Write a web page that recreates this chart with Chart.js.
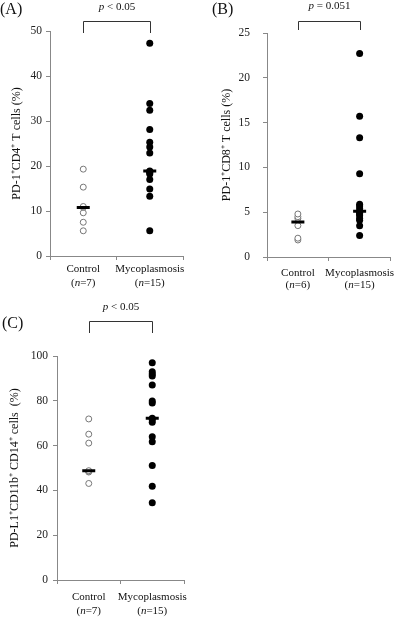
<!DOCTYPE html>
<html>
<head>
<meta charset="utf-8">
<script src="https://cdn.jsdelivr.net/npm/chart.js@4/dist/chart.umd.min.js"></script>
<style>
  body { margin: 0; background: #fff; }
  #wrap { position: relative; width: 400px; height: 633px; }
  canvas { position: absolute; }
</style>
</head>
<body>
<div id="wrap">
  <canvas id="chartA" width="200" height="300" style="left:0;top:0"></canvas>
  <canvas id="chartB" width="200" height="300" style="left:200px;top:0"></canvas>
  <canvas id="chartC" width="200" height="333" style="left:0;top:300px"></canvas>
</div>
<script>
const grupos = ['Control', 'Mycoplasmosis'];

// (A) PD-1+CD4+ T cells (%)
const cd4N = [7, 15];
const cd4Control = [5.6, 7.5, 9.6, 10.8, 11.0, 15.3, 19.3];
const cd4Myco = [5.6, 13.3, 14.9, 17.0, 18.2, 18.5, 18.8, 18.9, 22.9, 24.2, 25.3, 28.1, 32.4, 33.9, 47.3];
const cd4Mediana = [10.8, 18.9];
const cd4Ticks = [0, 10, 20, 30, 40, 50];

// (B) PD-1+CD8+ T cells (%)
const cd8N = [6, 15];
const cd8Control = [1.9, 2.1, 3.5, 4.3, 4.5, 4.8];
const cd8Myco = [2.4, 3.5, 4.1, 4.3, 4.6, 4.8, 4.9, 5.1, 5.4, 5.7, 5.9, 9.3, 13.3, 15.7, 22.7];
const cd8Mediana = [3.9, 5.1];
const cd8Ticks = [0, 5, 10, 15, 20, 25];

// (C) PD-L1+CD11b+CD14+ cells (%)
const pdl1N = [7, 15];
const pdl1Control = [43.1, 48.2, 48.5, 48.8, 61.1, 65.1, 71.9];
const pdl1Myco = [34.5, 41.9, 51.1, 61.7, 63.9, 70.4, 71.5, 72.2, 79.0, 79.9, 87.0, 91.1, 92.0, 93.0, 97.0];
const pdl1Mediana = [48.8, 72.2];
const pdl1Ticks = [0, 20, 40, 60, 80, 100];

const fonte = '"Liberation Serif", "Times New Roman", serif';

// escreve pedacos de texto (normal / italico) centrados em x
function textoMisto(ctx, partes, x, y, tamanho) {
  const fontes = partes.map(p => (p[1] ? 'italic ' : '') + tamanho + 'px ' + fonte);
  let total = 0;
  const larguras = partes.map((p, i) => {
    ctx.font = fontes[i];
    const w = ctx.measureText(p[0]).width;
    total += w;
    return w;
  });
  let cx = x - total / 2;
  ctx.textAlign = 'left';
  ctx.textBaseline = 'middle';
  partes.forEach((p, i) => {
    ctx.font = fontes[i];
    ctx.fillText(p[0], cx, y);
    cx += larguras[i];
  });
}

const enfeites = {
  id: 'enfeites',
  afterDraw(chart, args, cfg) {
    const ctx = chart.ctx;
    const escalaX = chart.scales.x;
    const fundo = chart.chartArea.bottom;
    ctx.save();
    ctx.fillStyle = '#111';

    // letra do painel
    ctx.font = '16px ' + fonte;
    ctx.textAlign = 'left';
    ctx.textBaseline = 'middle';
    ctx.fillText(cfg.letra, cfg.letraX, cfg.letraY);

    // colchete
    const x0 = Math.round(escalaX.getPixelForTick(0)) + 0.5;
    const x1 = Math.round(escalaX.getPixelForTick(1)) + 0.5;
    ctx.strokeStyle = '#333';
    ctx.lineWidth = 1;
    ctx.beginPath();
    ctx.moveTo(x0, cfg.pernaY);
    ctx.lineTo(x0, cfg.colcheteY + 0.5);
    ctx.lineTo(x1, cfg.colcheteY + 0.5);
    ctx.lineTo(x1, cfg.pernaY);
    ctx.stroke();

    // valor de p
    textoMisto(ctx, [['p', true], [cfg.pTexto, false]], (x0 + x1) / 2, cfg.pY, 11);

    // rotulos dos grupos
    grupos.forEach((g, i) => {
      const px = escalaX.getPixelForTick(i);
      textoMisto(ctx, [[g, false]], px, fundo + cfg.rot1, 11);
      textoMisto(ctx, [['(', false], ['n', true], ['=' + cfg.n[i] + ')', false]], px, fundo + cfg.rot2, 11);
    });
    ctx.restore();
  }
};

function criaGrafico(id, p) {
  new Chart(document.getElementById(id), {
    type: 'scatter',
    data: {
      datasets: [
        {
          data: p.mediana.map((v, i) => ({ x: grupos[i], y: v })),
          pointStyle: 'line',
          pointRadius: 6.5,
          borderWidth: 3,
          borderColor: '#000',
          order: 0
        },
        {
          data: p.control.map(v => ({ x: grupos[0], y: v })),
          pointStyle: 'circle',
          pointRadius: 3,
          backgroundColor: '#fff',
          borderColor: '#777',
          borderWidth: 1,
          order: 1
        },
        {
          data: p.myco.map(v => ({ x: grupos[1], y: v })),
          pointStyle: 'circle',
          pointRadius: 3.5,
          backgroundColor: '#000',
          borderColor: '#000',
          borderWidth: 0,
          order: 1
        }
      ]
    },
    options: {
      responsive: false,
      animation: false,
      events: [],
      layout: { padding: { top: p.topo, right: p.direita, left: 0, bottom: 0 } },
      scales: {
        x: {
          type: 'category',
          labels: grupos,
          offset: true,
          grid: { display: true, offset: true, drawOnChartArea: false, drawTicks: true, tickLength: 4, color: '#888' },
          border: { display: true, color: '#888' },
          ticks: { display: false },
          afterFit: s => { s.height = p.alturaX; }
        },
        y: {
          min: p.ticks[0],
          max: p.ticks[p.ticks.length - 1],
          afterBuildTicks: s => { s.ticks = p.ticks.map(v => ({ value: v })); },
          grid: { drawOnChartArea: false, drawTicks: true, tickLength: 4, color: '#888' },
          border: { display: true, color: '#888' },
          ticks: { color: '#222', padding: p.padTick, font: { family: fonte, size: 11.5 } },
          title: {
            display: true,
            text: p.titulo,
            color: '#111',
            font: { family: fonte, size: 12 },
            padding: { top: p.padTitulo, bottom: 0 }
          },
          afterFit: s => { s.width = p.larguraY; }
        }
      },
      plugins: {
        legend: { display: false },
        tooltip: { enabled: false },
        enfeites: {
          letra: p.letra, letraX: p.letraX, letraY: p.letraY,
          pTexto: p.pTexto, pY: p.pY, colcheteY: p.colcheteY, pernaY: p.pernaY,
          rot1: p.rot1, rot2: p.rot2, n: p.n
        }
      }
    },
    plugins: [enfeites]
  });
}

criaGrafico('chartA', {
  control: cd4Control, myco: cd4Myco, mediana: cd4Mediana, ticks: cd4Ticks, n: cd4N,
  titulo: 'PD-1\u207ACD4\u207A T cells (%)',
  topo: 31, direita: 17, alturaX: 44, larguraY: 50, padTick: 4, padTitulo: 9.8,
  letra: '(A)', letraX: 0, letraY: 10,
  pTexto: ' < 0.05', pY: 7, colcheteY: 21, pernaY: 33,
  rot1: 13, rot2: 27
});

criaGrafico('chartB', {
  control: cd8Control, myco: cd8Myco, mediana: cd8Mediana, ticks: cd8Ticks, n: cd8N,
  titulo: 'PD-1\u207ACD8\u207A T cells (%)',
  topo: 33, direita: 1, alturaX: 43, larguraY: 67, padTick: 13, padTitulo: 19.8,
  letra: '(B)', letraX: 12, letraY: 10,
  pTexto: ' = 0.051', pY: 6, colcheteY: 21, pernaY: 30,
  rot1: 16, rot2: 28
});

criaGrafico('chartC', {
  control: pdl1Control, myco: pdl1Myco, mediana: pdl1Mediana, ticks: pdl1Ticks, n: pdl1N,
  titulo: 'PD-L1\u207ACD11b\u207A CD14\u207A cells  (%)',
  topo: 56, direita: 16, alturaX: 53, larguraY: 57, padTick: 5, padTitulo: 7.8,
  letra: '(C)', letraX: 2, letraY: 24,
  pTexto: ' < 0.05', pY: 7, colcheteY: 21, pernaY: 33,
  rot1: 17, rot2: 31
});
</script>
</body>
</html>
